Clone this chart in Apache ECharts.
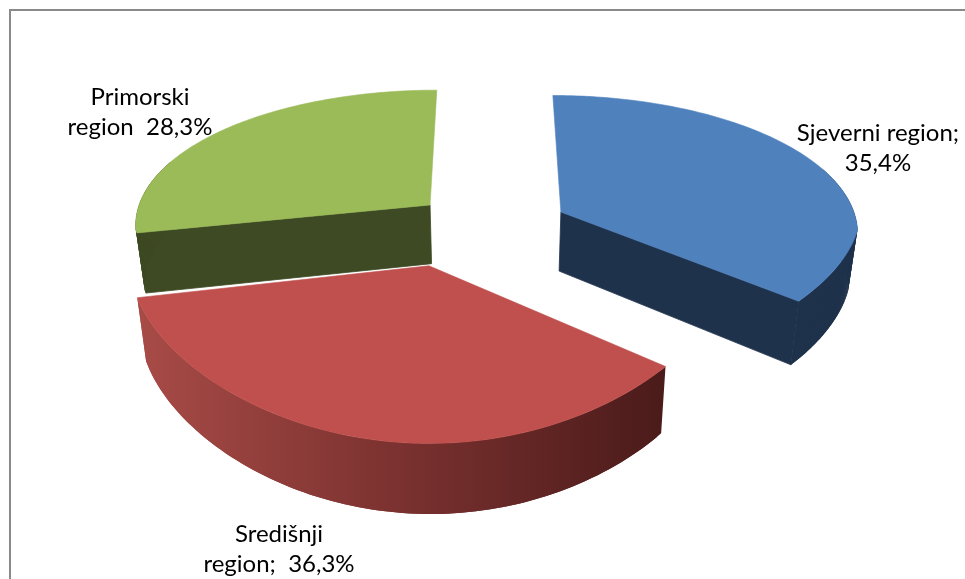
<!DOCTYPE html>
<html>
<head>
<meta charset="utf-8">
<script src="https://cdn.jsdelivr.net/npm/echarts@6/dist/echarts.min.js"></script>
<style>
  html, body { margin: 0; padding: 0; background: #ffffff; }
  #chart { width: 965px; height: 579px; }
</style>
</head>
<body>
<div id="chart"></div>
<script>
// ---- data ----
const categories = ['Sjeverni region', 'Središnji region', 'Primorski region'];
const values = [35.4, 36.3, 28.3];
// label layout per slice: first line / second line, {v} = formatted value
const labelLines = [
  ['Sjeverni region;', '{v}'],
  ['Središnji', 'region;  {v}'],
  ['Primorski', 'region  {v}']
];

// ---- styles ----
const topColors = ['#4F81BD', '#C0504D', '#9BBB59'];
const sideColors = ['#1F324B', null, '#3E4A23'];
const redWallStops = [
  { offset: 0, color: '#A84B47' },
  { offset: 0.5, color: '#7A312F' },
  { offset: 1, color: '#4A1B1A' }
];
// explosion offsets of each slice in pie-plane units [x, depth]
const explode = [[0.242, 0.132], [-0.205, -0.248], [-0.206, 0.185]];
// label centres
const labelPos = [[878, 148], [279, 549], [140, 112]];
// projection parameters (tilted, mild perspective)
const P = { cx: 490, cy: 230, B: 298, A: 139, k: 0.15, kx: 0.13, t0: 60, kt: 0.12, bottomShrink: 0.975 };

function proj(X, Z, bottom) {
  let y = P.cy - P.A * Z / (1 + P.k * Z);
  let x = P.B * X / (1 + P.kx * Math.max(Z, 0));
  if (bottom) {
    y += P.t0 / (1 + P.kt * Z);
    x *= P.bottomShrink;
  }
  return [P.cx + x, y];
}
const total = values.reduce((a, b) => a + b, 0);
const starts = [];
let acc = 0;
values.forEach(v => { starts.push(acc / total * 360); acc += v; });
const D2R = Math.PI / 180;

function fmt(v) { return v.toFixed(1).replace('.', ',') + '%'; }

// draw back slices first
const order = values.map((v, i) => i).sort((a, b) => explode[b][1] - explode[a][1]);

function renderItem(params, api) {
  const i = api.value(0);
  const a = starts[i];
  const b = a + values[i] / total * 360;
  const ox = explode[i][0], oz = explode[i][1];
  const rim = (t, bot) => proj(ox + Math.sin(t * D2R), oz + Math.cos(t * D2R), bot);
  const apex = (bot) => proj(ox, oz, bot);
  const children = [];
  const sideFill = sideColors[i];

  // radial cut faces
  [[a, a - 90], [b, b + 90]].forEach(([ang, nrm]) => {
    if (Math.cos(nrm * D2R) < -0.02) {
      const pts = [apex(false), rim(ang, false), rim(ang, true), apex(true)];
      children.push({ type: 'polygon', shape: { points: pts },
        style: { fill: sideFill || '#4A1B1A', stroke: sideFill || '#4A1B1A', lineWidth: 0.8 } });
    }
  });

  // outer wall (front half) drawn as overlapping quads; hidden parts are covered by the top
  const lo = Math.max(a, 70), hi = Math.min(b, 290);
  if (hi > lo) {
    const n = 90;
    const topPts = [], botPts = [];
    for (let s = 0; s <= n; s++) {
      const t = lo + (hi - lo) * s / n;
      topPts.push(rim(t, false));
      botPts.push(rim(t, true));
    }
    let fill = sideFill;
    if (!fill) {
      const xs = topPts.concat(botPts).map(p => p[0]);
      fill = new echarts.graphic.LinearGradient(Math.min(...xs), 0, Math.max(...xs), 0, redWallStops, true);
    }
    for (let s = 0; s < n; s++) {
      const e = Math.min(s + 2, n);
      children.push({ type: 'polygon',
        shape: { points: [topPts[s], topPts[s + 1], topPts[e], botPts[e], botPts[s + 1], botPts[s]] },
        style: { fill: fill } });
    }
  }

  // top face
  const n2 = 120;
  const topFace = [apex(false)];
  for (let s = 0; s <= n2; s++) topFace.push(rim(a + (b - a) * s / n2, false));
  children.push({ type: 'polygon', shape: { points: topFace },
    style: { fill: topColors[i], stroke: topColors[i], lineWidth: 0.6 } });

  // label
  const txt = labelLines[i].map(l => l.replace('{v}', fmt(values[i]))).join('\n');
  children.push({ type: 'text', x: labelPos[i][0], y: labelPos[i][1],
    style: { text: txt, fill: '#000000', fontFamily: 'Lato', fontSize: 24,
      lineHeight: 30, align: 'center', verticalAlign: 'middle' } });

  return { type: 'group', children: children };
}

const chart = echarts.init(document.getElementById('chart'), null, { renderer: 'canvas' });
chart.setOption({
  animation: false,
  backgroundColor: '#ffffff',
  graphic: [{
    type: 'rect', silent: true, z: -1,
    shape: { x: 10, y: 10, width: 1200, height: 1200 },
    style: { fill: 'none', stroke: '#8a8a8a', lineWidth: 2 }
  }],
  series: [{
    type: 'custom',
    name: 'regije',
    coordinateSystem: 'none',
    renderItem: renderItem,
    data: order.map(i => ({ name: categories[i], value: [i] }))
  }]
});
</script>
</body>
</html>
